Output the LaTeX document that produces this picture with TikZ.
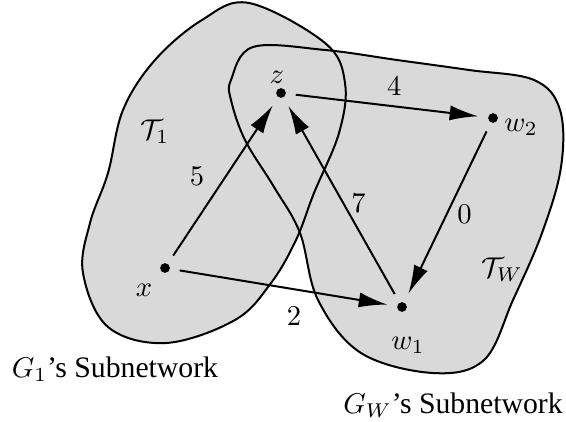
\documentclass[tikz,border=0pt]{standalone}
\usepackage{fontspec}
\setmainfont{Liberation Serif}
\usetikzlibrary{arrows.meta}

\begin{document}
\begin{tikzpicture}[
  x=0.35pt, y=-0.35pt,
  font=\fontsize{10.4pt}{12pt}\selectfont,
  vertex/.style={circle, fill, inner sep=0pt, minimum size=3.4pt, outer sep=3.5pt},
  arrow/.style={-{Latex[length=10pt, width=5.3pt]}, line width=0.7pt},
  region/.style={fill=black!15},
  outline/.style={draw, line width=0.7pt}
]
\useasboundingbox (0,0) rectangle (566,421);
\def\regionone{plot[smooth cycle, tension=0.6] coordinates {(249,3) (325,43) (345,83) (339,133) (314,193) (296,240) (271,283) (235,320) (166,343) (108,327) (83,273) (90,223) (108,173) (123,110) (155,60) (202,20)}}
\def\regionw{plot[smooth cycle, tension=0.6] coordinates {(231,80) (253,47) (325,50) (397,60) (469,70) (534,80) (560,110) (561,167) (542,233) (513,300) (484,360) (433,373) (361,353) (318,300) (300,233) (274,187) (245,140) (231,100)}}
\fill[region] \regionone;
\fill[region] \regionw;
\draw[outline] \regionone;
\draw[outline] \regionw;

\node (t1) at (155,132) {$\mathcal{T}_1$};
\node (tw) at (502,270) {$\mathcal{T}_W$};

\node[vertex] (x) at (165,268) {};
\node[vertex] (z) at (281,93) {};
\node[vertex] (w2) at (493,118) {};
\node[vertex] (w1) at (402,307) {};
\node (xl) at (144,290) {$x$};
\node (zl) at (277,77) {$z$};
\node (w2l) at (521,127) {$w_2$};
\node (w1l) at (408,345) {$w_1$};

\draw[arrow] (x) -- node[pos=0.53, left=4pt] {$5$} (z);
\draw[arrow] (x) -- node[pos=0.55, below=2.5pt] {$2$} (w1);
\draw[arrow] (z) -- node[pos=0.54, above=0pt] {$4$} (w2);
\draw[arrow] (w1) -- node[pos=0.48, right=-1pt] {$7$} (z);
\draw[arrow] (w2) -- node[pos=0.51, right=0pt] {$0$} (w1);

\node (sub1) at (115,369) {$G_1$'s Subnetwork};
\node (subw) at (453,405) {$G_W$'s Subnetwork};
\end{tikzpicture}
\end{document}
